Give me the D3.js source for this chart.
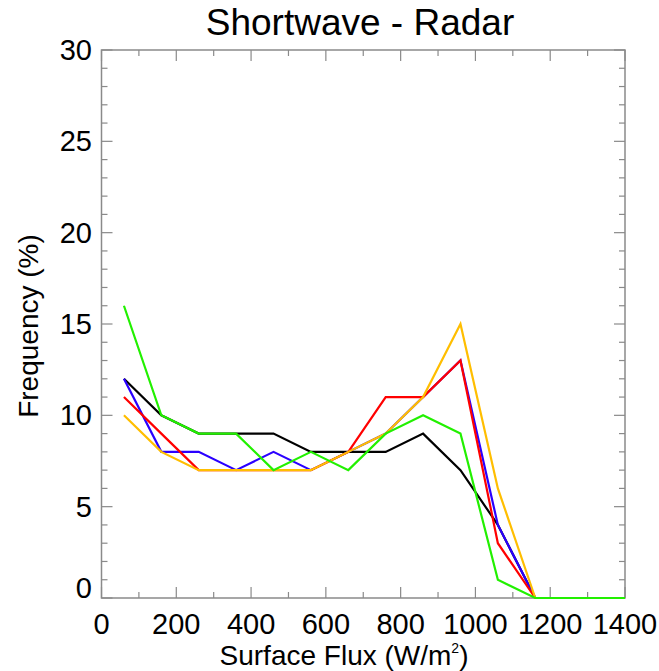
<!DOCTYPE html>
<html>
<head>
<meta charset="utf-8">
<script src="https://cdn.jsdelivr.net/npm/d3@7"></script>
<style>
  html, body { margin: 0; padding: 0; background: #fff; }
  svg { display: block; font-family: "Liberation Sans", Arial, Helvetica, sans-serif; }
</style>
</head>
<body>
<svg id="chart" width="659" height="671"></svg>
<script>
// ---- data ----
const fluxBins = [60, 160, 260, 360, 460, 560, 660, 760, 860, 960, 1060, 1160, 1260, 1360, 1460];
const seriesBlack  = [12, 10, 9, 9, 9, 8, 8, 8, 9, 7, 4, 0, 0, 0, 0];
const seriesBlue   = [12, 8, 8, 7, 8, 7, 8, 9, 11, 13, 4, 0, 0, 0, 0];
const seriesRed    = [11, 9, 7, 7, 7, 7, 8, 11, 11, 13, 3, 0, 0, 0, 0];
const seriesOrange = [10, 8, 7, 7, 7, 7, 8, 9, 11, 15, 6, 0, 0, 0, 0];
const seriesGreen  = [16, 10, 9, 9, 7, 8, 7, 9, 10, 9, 1, 0, 0, 0, 0];
const seriesColors = ["#000000", "#2a00ff", "#ff0000", "#ffbe00", "#22f000"];
const xTickValues = [0, 200, 400, 600, 800, 1000, 1200, 1400];
const yTickValues = [0, 5, 10, 15, 20, 25, 30];
const titleText = "Shortwave - Radar";
const xTitle = "Surface Flux (W/m";
const yTitle = "Frequency (%)";

// ---- layout ----
const svg = d3.select("#chart");
const L = 101.5, R = 625, T = 50, B = 598;
const x = d3.scaleLinear().domain([0, 1400]).range([L, R]);
const y = d3.scaleLinear().domain([0, 30]).range([B, T]);
const axisColor = "#8a8a8a";
const fontSize = 28;
const tickFont = 29;

// clip
svg.append("defs").append("clipPath").attr("id", "clip")
  .append("rect").attr("x", L).attr("y", T - 2).attr("width", R - L).attr("height", B - T + 4);

// frame
svg.append("rect").attr("x", L).attr("y", T).attr("width", R - L).attr("height", B - T)
  .attr("fill", "none").attr("stroke", axisColor).attr("stroke-width", 1.5);

// ticks
const ax = svg.append("g").attr("stroke", axisColor).attr("stroke-width", 1.2);
const xMinor = d3.range(0, 1401, 100);
xMinor.forEach(v => {
  const len = (v % 200 === 0) ? 11 : 6;
  ax.append("line").attr("x1", x(v)).attr("x2", x(v)).attr("y1", B).attr("y2", B - len);
  ax.append("line").attr("x1", x(v)).attr("x2", x(v)).attr("y1", T).attr("y2", T + len);
});
const yMinor = d3.range(0, 31, 1);
yMinor.forEach(v => {
  const len = (v % 5 === 0) ? 11 : 6;
  ax.append("line").attr("x1", L).attr("x2", L + len).attr("y1", y(v)).attr("y2", y(v));
  ax.append("line").attr("x1", R).attr("x2", R - len).attr("y1", y(v)).attr("y2", y(v));
});

// tick labels
svg.append("g").selectAll("text").data(xTickValues).join("text")
  .attr("x", d => x(d)).attr("y", 634)
  .attr("text-anchor", "middle").attr("font-size", tickFont).attr("fill", "#000")
  .text(d => d);
svg.append("g").selectAll("text").data(yTickValues).join("text")
  .attr("x", L - 9.5).attr("y", d => y(d) + (d === 0 ? -10 : 0))
  .attr("dy", "0.35em")
  .attr("text-anchor", "end").attr("font-size", tickFont).attr("fill", "#000")
  .text(d => d);

// titles
svg.append("text").attr("x", 360).attr("y", 35).attr("text-anchor", "middle")
  .attr("font-size", 37).attr("fill", "#000").text(titleText);

const xt = svg.append("text").attr("x", 344).attr("y", 665).attr("text-anchor", "middle")
  .attr("font-size", fontSize).attr("fill", "#000");
xt.append("tspan").text(xTitle);
xt.append("tspan").attr("font-size", 14).attr("dy", -12).text("2");
xt.append("tspan").attr("dy", 12).text(")");

svg.append("text").attr("transform", `translate(38,${(T + B) / 2 + 2}) rotate(-90)`)
  .attr("text-anchor", "middle").attr("font-size", fontSize).attr("fill", "#000").text(yTitle);

// lines
const allSeries = [seriesBlack, seriesBlue, seriesRed, seriesOrange, seriesGreen];
const line = d3.line().x((d, i) => x(fluxBins[i])).y(d => y(d));
const lg = svg.append("g").attr("clip-path", "url(#clip)");
allSeries.forEach((s, k) => {
  lg.append("path").datum(s).attr("d", line)
    .attr("fill", "none").attr("stroke", seriesColors[k]).attr("stroke-width", 2.2)
    .attr("stroke-linejoin", "miter");
});
</script>
</body>
</html>
